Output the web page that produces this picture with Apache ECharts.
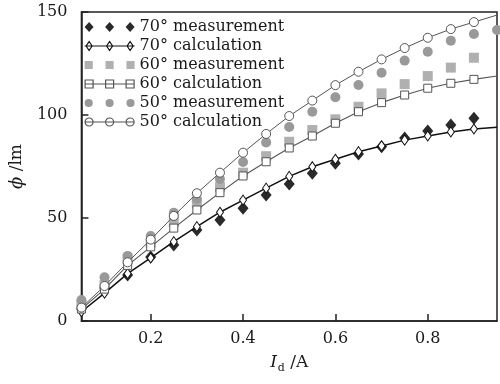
<!DOCTYPE html>
<html>
<head>
<meta charset="utf-8">
<script src="https://cdn.jsdelivr.net/npm/echarts@6/dist/echarts.min.js"></script>
<style>
  html, body { margin: 0; padding: 0; background: #fff; }
  #chart { width: 500px; height: 384px; }
</style>
</head>
<body>
<div id="chart"></div>
<script>
const currents = [0.05, 0.1, 0.15, 0.2, 0.25, 0.3, 0.35, 0.4, 0.45, 0.5, 0.55, 0.6, 0.65, 0.7, 0.75, 0.8, 0.85, 0.9, 0.95];

const meas70 = [5.8, 16, 22.3, 31.1, 36.9, 44.2, 49, 54.7, 61.2, 66.5, 71.7, 76.6, 81.1, 84.6, 88.8, 92.2, 95.1, 98.4];
const calc70 = [4.5, 13.5, 23, 30.6, 38.5, 45.8, 52.8, 58.7, 64.5, 70.2, 74.9, 78.5, 82.2, 85, 87.8, 89.8, 91.8, 93.2, 94];
const meas60 = [7.8, 17.5, 30, 38, 48, 57, 65, 72, 80, 87, 92.7, 97.9, 104, 110.5, 115, 118.9, 123, 127.8];
const calc60 = [5.8, 15.5, 27, 36, 45.1, 53.9, 62.3, 70.4, 77.3, 84, 89.8, 96, 101.6, 106, 109.7, 113, 115.4, 117.3, 118.9];
const meas50 = [10.2, 21.2, 31.6, 41.3, 52.5, 59.2, 68.9, 77.2, 86.7, 94.2, 101.6, 108.6, 114.6, 120.5, 126.4, 130.7, 136.1, 139.3, 141.3];
const calc50 = [6.5, 17, 28.5, 39.5, 51, 62, 72, 81.7, 90.8, 99.5, 107, 114.5, 121, 127, 132.5, 137.5, 141.7, 145.1, 148.5];

const xTicks = [0.2, 0.4, 0.6, 0.8];
const seriesNames = ["70° measurement", "70° calculation", "60° measurement", "60° calculation", "50° measurement", "50° calculation"];

const serif = "DejaVu Serif";
const ink = "#1a1a1a";

// pair each value with its current; the last calc point only carries the line to the edge
const toPoints = (vals, lastBare) => vals.map((v, i) => {
    const p = { value: [currents[i], v] };
    if (lastBare && i === currents.length - 1) p.symbol = "none";
    return p;
});

const measSeries = (name, vals, symbol, size, color) => ({
    name,
    type: "scatter",
    data: toPoints(vals, false),
    symbol,
    symbolSize: size,
    itemStyle: { color, opacity: 1 },
    z: 2
});

const calcSeries = (name, vals, symbol, size, color, width) => ({
    name,
    type: "line",
    data: toPoints(vals, true),
    symbol,
    symbolSize: size,
    showAllSymbol: true,
    lineStyle: { color, width },
    itemStyle: { color: "#fff", borderColor: color, borderWidth: 1 },
    z: 3
});

// legend icons: three marks, with a line through them for the calculated curves
const dia = (cx) => `M${cx},0 L${cx + 4.5},5 L${cx},10 L${cx - 4.5},5 Z`;
const thinDia = (cx) => `M${cx},0.5 L${cx + 3},5 L${cx},9.5 L${cx - 3},5 Z`;
const sq = (cx) => `M${cx - 4},1 L${cx + 4},1 L${cx + 4},9 L${cx - 4},9 Z`;
const circ = (cx) => `M${cx - 4},5 A4,4 0 1,1 ${cx + 4},5 A4,4 0 1,1 ${cx - 4},5 Z`;
const marks = (fn) => [4.5, 25, 45.5].map(fn).join(" ");
const withLine = (fn) => "path://M0,5 L50,5 " + marks(fn);

const legendData = [
    { name: seriesNames[0], icon: "path://" + marks(dia), itemStyle: { color: "#2a2a2a", borderWidth: 0 } },
    { name: seriesNames[1], icon: withLine(thinDia), itemStyle: { color: "#fff", borderColor: "#111", borderWidth: 1.2 } },
    { name: seriesNames[2], icon: "path://" + marks(sq), itemStyle: { color: "#b0b0b0", borderWidth: 0 } },
    { name: seriesNames[3], icon: withLine(sq), itemStyle: { color: "#fff", borderColor: "#555", borderWidth: 1.2 } },
    { name: seriesNames[4], icon: "path://" + marks(circ), itemStyle: { color: "#999", borderWidth: 0 } },
    { name: seriesNames[5], icon: withLine(circ), itemStyle: { color: "#fff", borderColor: "#555", borderWidth: 1.2 } }
];

const chart = echarts.init(document.getElementById("chart"));

chart.setOption({
    animation: false,
    backgroundColor: "#fff",
    legend: {
        orient: "vertical",
        left: 84,
        top: 19,
        padding: 0,
        itemGap: 3,
        itemWidth: 50,
        itemHeight: 10,
        data: legendData,
        textStyle: { fontFamily: serif, fontSize: 16, color: ink, lineHeight: 16 }
    },
    grid: {
        left: 68,
        right: 3,
        top: 12,
        bottom: 63,
        show: true,
        borderColor: "#222",
        borderWidth: 1.5,
        backgroundColor: "transparent"
    },
    xAxis: {
        type: "value",
        min: 0.05,
        max: 0.95,
        name: "{i|I}{sub|d}{t| /A}",
        nameLocation: "middle",
        nameGap: 30,
        nameTextStyle: {
            rich: {
                i: { fontFamily: serif, fontStyle: "italic", fontSize: 17, color: ink },
                sub: { fontFamily: serif, fontSize: 11, color: ink, padding: [12, 0, 0, 1] },
                t: { fontFamily: serif, fontSize: 17, color: ink }
            }
        },
        axisLine: { lineStyle: { color: "#222", width: 1.5 } },
        axisTick: { inside: true, length: 7, customValues: xTicks, lineStyle: { color: "#222", width: 1.5 } },
        axisLabel: {
            customValues: xTicks,
            margin: 10,
            fontFamily: serif,
            fontSize: 16,
            color: ink,
            formatter: (v) => v.toFixed(1)
        },
        splitLine: { show: false }
    },
    yAxis: {
        type: "value",
        min: 0,
        max: 150,
        interval: 50,
        name: "{phi|ϕ}{t| /lm}",
        nameLocation: "middle",
        nameGap: 42,
        nameTextStyle: {
            rich: {
                phi: { fontFamily: serif, fontStyle: "italic", fontSize: 18, color: ink },
                t: { fontFamily: serif, fontSize: 17, color: ink }
            }
        },
        axisLine: { show: true, lineStyle: { color: "#222", width: 1.5 } },
        axisTick: { inside: true, length: 7, lineStyle: { color: "#222", width: 1.5 } },
        axisLabel: { margin: 14, fontFamily: serif, fontSize: 16, color: ink },
        splitLine: { show: false }
    },
    series: [
        measSeries(seriesNames[0], meas70, "diamond", [11, 13], "#2a2a2a"),
        calcSeries(seriesNames[1], calc70, "diamond", [7, 10], "#111", 1.5),
        measSeries(seriesNames[2], meas60, "rect", 10, "#b0b0b0"),
        calcSeries(seriesNames[3], calc60, "rect", 8, "#555", 1.1),
        measSeries(seriesNames[4], meas50, "circle", 10, "#999"),
        calcSeries(seriesNames[5], calc50, "circle", 9, "#555", 1)
    ]
});
</script>
</body>
</html>
